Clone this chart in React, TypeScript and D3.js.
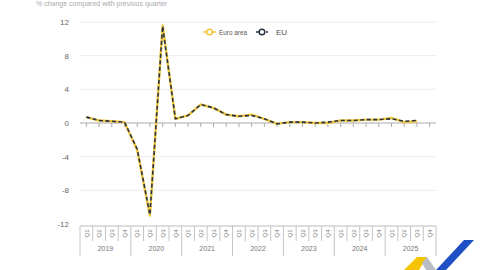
import React from "react";
import * as d3 from "d3";

const years = ["2019", "2020", "2021", "2022", "2023", "2024", "2025"];
const quarters = ["Q1", "Q2", "Q3", "Q4"];
const euroArea = [0.7, 0.3, 0.2, 0.1, -3.2, -11.0, 11.6, 0.5, 0.9, 2.2, 1.8, 1.0, 0.8, 1.0, 0.5, -0.1, 0.1, 0.1, 0.0, 0.0, 0.3, 0.3, 0.4, 0.4, 0.6, 0.1, 0.2];
const eu = [0.7, 0.3, 0.2, 0.1, -3.1, -10.9, 11.5, 0.5, 0.9, 2.2, 1.8, 1.0, 0.8, 0.9, 0.5, -0.1, 0.1, 0.1, 0.0, 0.1, 0.3, 0.3, 0.4, 0.4, 0.5, 0.2, 0.3];
const yTicks = [12, 8, 4, 0, -4, -8, -12];
const seriesNames = ["Euro area", "EU"];

const FONT = "'Liberation Sans', Arial, sans-serif";
const YELLOW = "#f0c63c";
const DARK = "#2a3345";

export default function App() {
  const cats = years.flatMap((y) => quarters.map((q) => `${y}-${q}`));
  const x = d3.scaleBand<string>().domain(cats).range([80, 436]).padding(0);
  const y = d3.scaleLinear().domain([-12, 12]).range([224, 22]);
  const cx = (i: number) => (x(cats[i]) ?? 0) + x.bandwidth() / 2;
  const line = d3
    .line<number>()
    .x((_, i) => cx(i))
    .y((d) => y(d))
    .curve(d3.curveLinear);
  const tableTop = 226;
  const qBottom = 241;
  const yBottom = 256;
  const yearW = x.bandwidth() * 4;

  return (
    <svg
      width={480}
      height={270}
      style={{ position: "absolute", left: 0, top: 0, background: "#fff" }}
      fontFamily={FONT}
    >
      <text x={36} y={6} fontSize={7} fill="#aaa">
        % change compared with previous quarter
      </text>
      {yTicks.map((t) => (
        <g key={t}>
          {t !== 0 && t !== -12 && (
            <line x1={80} x2={436} y1={y(t)} y2={y(t)} stroke="#ececec" strokeWidth={1} />
          )}
          <text x={69} y={y(t) + 3} fontSize={8} fill="#666" textAnchor="end">
            {t}
          </text>
        </g>
      ))}
      <line x1={80} x2={436} y1={y(0)} y2={y(0)} stroke="#aaa" strokeWidth={1} />
      {cats.map((c, i) => (
        <line key={c} x1={cx(i)} x2={cx(i)} y1={y(0)} y2={y(0) + 4} stroke="#aaa" strokeWidth={1} />
      ))}
      {/* category table */}
      <line x1={80} x2={436} y1={tableTop} y2={tableTop} stroke="#bbb" strokeWidth={1} />
      {cats.map((c, i) => {
        const bx = x(c) ?? 0;
        const isYear = i % 4 === 0;
        return (
          <g key={"t" + c}>
            <line
              x1={bx}
              x2={bx}
              y1={tableTop}
              y2={isYear ? yBottom : qBottom}
              stroke="#c4c4c4"
              strokeWidth={1}
            />
            <text
              transform={`translate(${cx(i) + 2.2},${233.5}) rotate(-90)`}
              fontSize={6}
              fill="#777"
              textAnchor="middle"
            >
              {quarters[i % 4]}
            </text>
          </g>
        );
      })}
      <line x1={436} x2={436} y1={tableTop} y2={yBottom} stroke="#c4c4c4" strokeWidth={1} />
      {years.map((yr, i) => (
        <text key={yr} x={80 + yearW * i + yearW / 2} y={251} fontSize={7} fill="#777" textAnchor="middle">
          {yr}
        </text>
      ))}
      {/* series */}
      <path d={line(euroArea) ?? ""} fill="none" stroke={YELLOW} strokeWidth={2.4} strokeLinejoin="round" />
      <path d={line(eu) ?? ""} fill="none" stroke={DARK} strokeWidth={1.6} strokeDasharray="4,2.5" strokeLinejoin="round" />
      {/* legend */}
      <g>
        <line x1={203} x2={216} y1={32} y2={32} stroke={YELLOW} strokeWidth={1.5} />
        <circle cx={209.5} cy={32} r={2.8} fill="#fff" stroke={YELLOW} strokeWidth={1.5} />
        <text x={219} y={35} fontSize={8} fill="#555" textLength={28} lengthAdjust="spacingAndGlyphs">{seriesNames[0]}</text>
        <line x1={256} x2={268} y1={32} y2={32} stroke={DARK} strokeWidth={1.5} strokeDasharray="3,2" />
        <circle cx={262} cy={32} r={2.8} fill="#fff" stroke={DARK} strokeWidth={1.5} />
        <text x={276} y={35} fontSize={8} fill="#555">{seriesNames[1]}</text>
      </g>
      {/* logo */}
      <g>
        <polygon points="404,270 417,257 427,257 419,270" fill="#f5c400" />
        <polygon points="427,257 436,270 426,270 422,263" fill="#b9bcc4" />
        <polygon points="436,270 464,240 474,240 446,270" fill="#1f4fc4" />
      </g>
    </svg>
  );
}
